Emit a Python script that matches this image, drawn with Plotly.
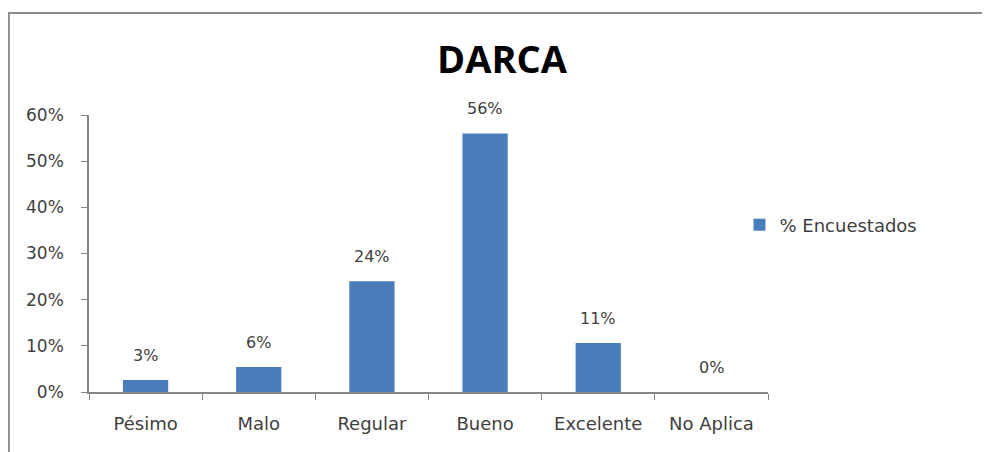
import plotly.graph_objects as go

categories = ["Pésimo", "Malo", "Regular", "Bueno", "Excelente", "No Aplica"]
values = [0.026, 0.054, 0.24, 0.56, 0.106, 0.0]
labels = ["3%", "6%", "24%", "56%", "11%", "0%"]
y_ticks = [0, 0.1, 0.2, 0.3, 0.4, 0.5, 0.6]
y_tick_labels = ["0%", "10%", "20%", "30%", "40%", "50%", "60%"]

BAR = "#4a7ebb"
TXT = "#404040"
FONT = "DejaVu Sans"

W, H = 982, 444  # page body has an 8px margin

fig = go.Figure()
fig.add_trace(go.Bar(
    x=categories, y=values, name="% Encuestados",
    marker=dict(color=BAR, line=dict(width=0)),
    showlegend=True,
))

for c, v, t in zip(categories, values, labels):
    fig.add_annotation(x=c, y=v, text=t, showarrow=False, yanchor="bottom",
                       yshift=13, font=dict(family=FONT, size=16, color=TXT))

fig.add_shape(type="rect", xref="paper", yref="paper",
              x0=-0.118, x1=1.32, y0=-0.3, y1=1.368,
              line=dict(color="#8c8c8c", width=2), fillcolor="rgba(0,0,0,0)", layer="below")

fig.update_layout(
    width=W, height=H,
    margin=dict(l=81, r=222, t=107, b=60),
    paper_bgcolor="white", plot_bgcolor="white",
    bargap=0.6,
    title=dict(text="<b>DARCA</b>", x=494 / W, xanchor="center", y=1 - 52 / H, yanchor="middle",
               font=dict(family="Open Sans", size=38, color="#000000")),
    legend=dict(x=0.958, y=0.603, xanchor="left", yanchor="middle",
                font=dict(family=FONT, size=18, color=TXT), bgcolor="rgba(0,0,0,0)",
                itemwidth=30),
    font=dict(family=FONT, size=15, color=TXT),
)
fig.update_xaxes(showline=True, linecolor="#868686", linewidth=1.5,
                 ticks="outside", tickson="boundaries", ticklen=6, tickcolor="#868686",
                 ticklabelstandoff=15,
                 showgrid=False, tickfont=dict(family=FONT, size=18, color=TXT))
fig.update_yaxes(range=[0, 0.6], tickvals=y_ticks, ticktext=y_tick_labels,
                 showline=True, linecolor="#868686", linewidth=1.5,
                 ticks="outside", ticklen=6, tickcolor="#868686",
                 ticklabelstandoff=14,
                 showgrid=False, zeroline=False,
                 tickfont=dict(family=FONT, size=17, color=TXT))

fig.write_html("out.html")
